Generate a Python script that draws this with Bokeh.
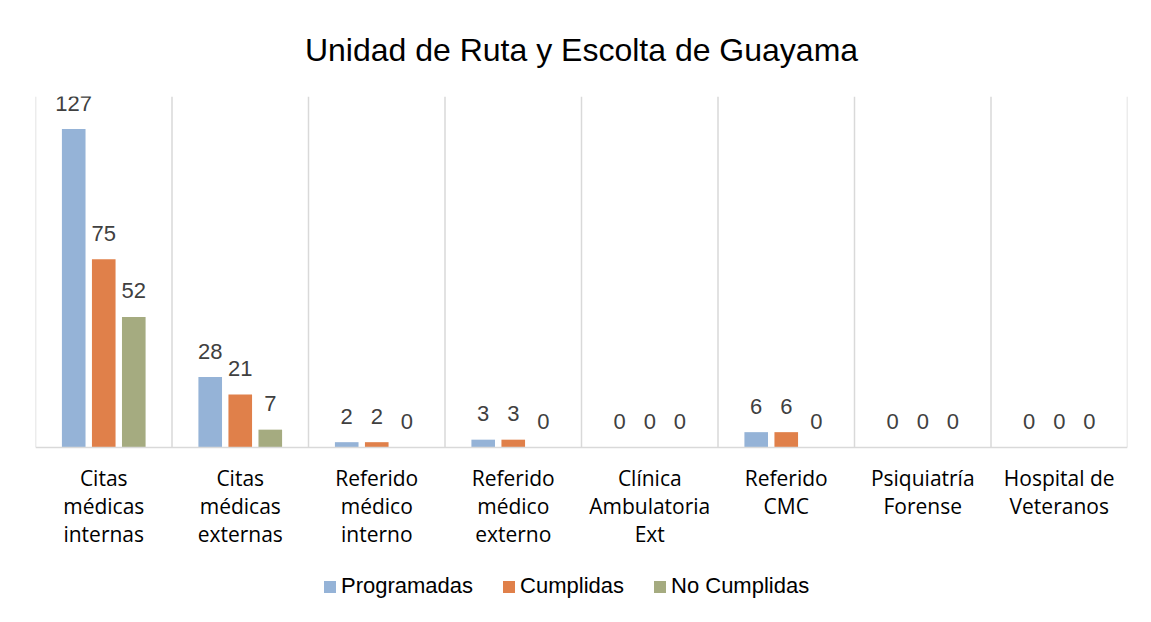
from bokeh.plotting import figure
from bokeh.models import Range1d, FixedTicker, Legend, LegendItem, ColumnDataSource
from bokeh.core.properties import value
from bokeh.embed import file_html
from bokeh.resources import INLINE

title_text = "Unidad de Ruta y Escolta de Guayama"
categories = ["Citas\nmédicas\ninternas", "Citas\nmédicas\nexternas", "Referido\nmédico\ninterno",
              "Referido\nmédico\nexterno", "Clínica\nAmbulatoria\nExt", "Referido\nCMC",
              "Psiquiatría\nForense", "Hospital de\nVeteranos"]
series_names = ["Programadas", "Cumplidas", "No Cumplidas"]
programadas = [127, 28, 2, 3, 0, 6, 0, 0]
cumplidas = [75, 21, 2, 3, 0, 6, 0, 0]
no_cumplidas = [52, 7, 0, 0, 0, 0, 0, 0]
colors = ["#95B3D7", "#E0804A", "#A5AB80"]

n = len(categories)
centers = [i + 0.5 for i in range(n)]
bounds = list(range(n + 1))
y_max = 140

p = figure(frame_width=1092, frame_height=511, x_range=Range1d(0, n), y_range=Range1d(-64, y_max),
           output_backend="svg", toolbar_location=None, y_axis_location=None,
           min_border_left=35, min_border_right=8, min_border_top=95, min_border_bottom=0)
p.outline_line_color = None
p.background_fill_color = "white"
p.border_fill_color = "white"

p.title.text = title_text
p.title.align = "center"
p.title.text_font = "Liberation Sans"
p.title.text_font_size = "32px"
p.title.text_font_style = "normal"
p.title.text_color = "#000000"
p.title.standoff = 58

p.xgrid.visible = False
p.ygrid.visible = False

# category separators
p.segment(x0=bounds, y0=[0] * len(bounds), x1=bounds, y1=[y_max] * len(bounds),
          line_color="#D9D9D9", line_width=1.5)

ax = p.xaxis[0]
ax.fixed_location = 0
ax.ticker = FixedTicker(ticks=centers)
ax.major_label_overrides = {c: lab for c, lab in zip(centers, categories)}
ax.major_label_text_font = "Open Sans"
ax.major_label_text_font_size = "21px"
ax.major_label_text_color = "#000000"
ax.major_label_text_line_height = 1.0
ax.major_label_standoff = 11
ax.major_tick_line_color = None
ax.minor_tick_line_color = None
ax.axis_line_color = "#D9D9D9"
ax.axis_line_width = 1.5

offsets = [-0.22, 0.0, 0.22]
renderers = []
for name, vals, col, off in zip(series_names, [programadas, cumplidas, no_cumplidas], colors, offsets):
    src = ColumnDataSource(dict(x=[c + off for c in centers], top=vals, lab=[str(v) for v in vals]))
    r = p.vbar(x="x", top="top", width=0.173, source=src, fill_color=col, line_color=None)
    p.text(x="x", y="top", text="lab", source=src, text_align="center", text_baseline="alphabetic",
           y_offset=-26, text_font=value("Liberation Sans"), text_font_size="22px", text_color="#404040")
    renderers.append((name, r))

legend = Legend(items=[LegendItem(label=nm, renderers=[r]) for nm, r in renderers],
                orientation="horizontal", location=(287, 8),
                label_text_font="Liberation Sans", label_text_font_size="22px", label_text_color="#000000",
                glyph_width=15, glyph_height=15, label_height=15, label_standoff=4, spacing=28,
                padding=0, margin=0, border_line_color=None, background_fill_alpha=0)
p.add_layout(legend, "center")

open("out.html", "w").write(file_html(p, INLINE))
